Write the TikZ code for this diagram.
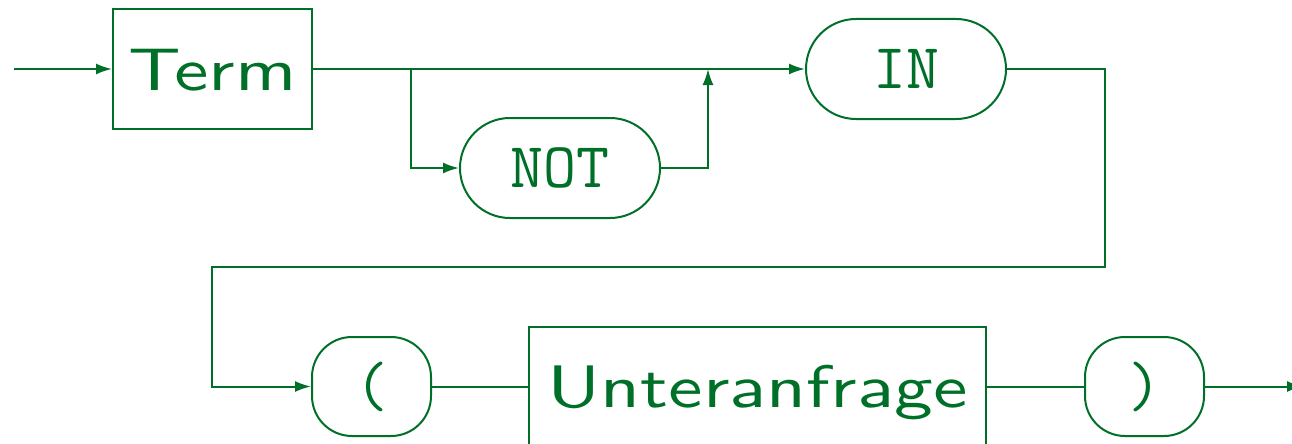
\documentclass[tikz,border=0pt]{standalone}
\usepackage{graphicx}
\usepackage{fontspec}
\usetikzlibrary{arrows.meta}
\newfontfamily\nontermfont{lmsans10-regular.otf}
\definecolor{syntaxGreen}{RGB}{0,112,40}
\newcommand{\widetext}[1]{\scalebox{1.29}[1]{#1}}

\begin{document}
\begin{tikzpicture}
[x=1pt,y=-1pt,
  lineDecorate/.style={-,line width=2pt,draw=syntaxGreen},%
  arrowDecorate/.style={lineDecorate,-{Latex[length=16pt,width=11pt]}},%
  boxDecorate/.style={shape=rectangle,draw=syntaxGreen,line width=2pt,inner sep=0pt,
    minimum height=119pt,text height=42pt,text depth=0pt,text=syntaxGreen,
    font=\fontsize{60}{70}\selectfont\nontermfont},%
  roundDecorate/.style={shape=rectangle,rounded corners=50pt,draw=syntaxGreen,line width=2pt,
    inner sep=0pt,minimum width=200pt,minimum height=100pt,text=syntaxGreen,
    font=\fontsize{64}{70}\selectfont\ttfamily},%
  keyDecorate/.style={roundDecorate,text height=39pt,text depth=0pt},%
  parenDecorate/.style={roundDecorate,rounded corners=40pt,minimum width=119pt,minimum height=99pt}]
\useasboundingbox (0,0) rectangle (1292,444);
%% nonterminals
\node (term) at (212.5,69) [boxDecorate,minimum width=199pt] {\widetext{Term}};
\node (sub) at (757.5,386.5) [boxDecorate,minimum width=457pt] {\widetext{Unteranfrage}};
%% terminals
\foreach \nodename/\x/\y/\word in {not/560/168/NOT, in/906/69/IN}
{
  \node (\nodename) at (\x,\y) [keyDecorate] {\word};
}
\node (lpar) at (371.5,386.5) [parenDecorate] {(};
\node (rpar) at (1144.5,386.5) [parenDecorate] {)};
%% turning points
\coordinate (start) at (14,69);
\coordinate (split) at (411,69);
\coordinate (join) at (708,69);
\coordinate (down) at (1105,267);
\coordinate (back) at (212,267);
\coordinate (stop) at (1303,386.5);
%% lines
\draw[arrowDecorate] (start) -- (term);
\draw[arrowDecorate] (term) -- (in);
\draw[arrowDecorate] (split) |- (not);
\draw[arrowDecorate] (not) -| (join);
\draw[arrowDecorate] (in) -| (down) -- (back) |- (lpar);
\draw[lineDecorate] (lpar) -- (sub);
\draw[lineDecorate] (sub) -- (rpar);
\draw[arrowDecorate] (rpar) -- (stop);
\end{tikzpicture}
\end{document}
